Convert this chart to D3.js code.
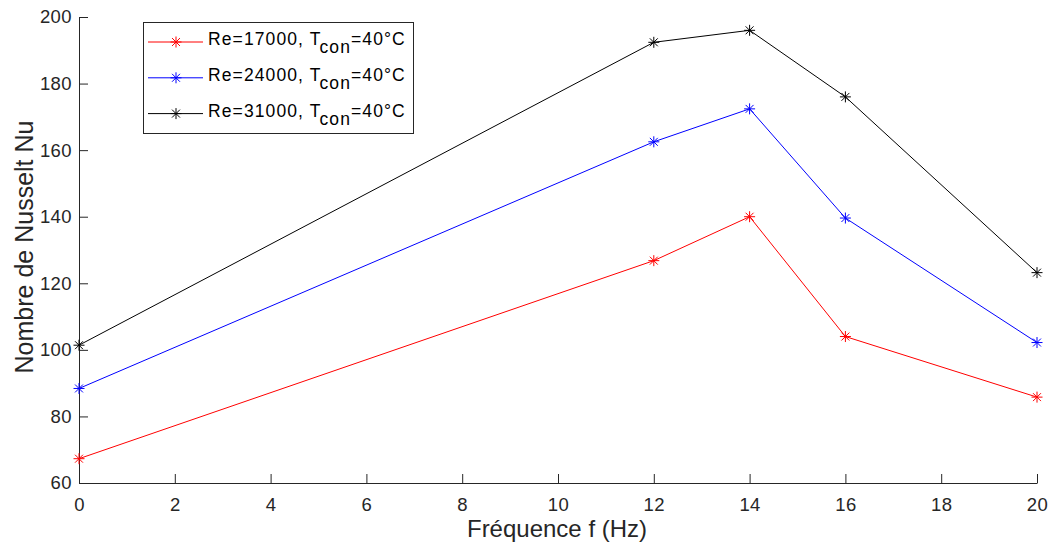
<!DOCTYPE html>
<html><head><meta charset="utf-8">
<script src="https://cdn.jsdelivr.net/npm/d3@7"></script>
<style>body{margin:0;background:#fff;} text{font-family:"Liberation Sans",Arial,Helvetica,sans-serif;}</style>
</head><body><svg id="c" width="1051" height="549"></svg>
<script>
const freq = [0, 12, 14, 16, 20];
const nuRe17000 = [67.3, 126.8, 140.0, 104.0, 85.8];
const nuRe24000 = [88.4, 162.5, 172.4, 139.6, 102.2];
const nuRe31000 = [101.4, 192.4, 196.0, 176.0, 123.2];
const seriesNames = ["Re=17000, T", "Re=24000, T", "Re=31000, T"];
const seriesColors = ["#ff0000", "#0000ff", "#000000"];
const xTicks = [0, 2, 4, 6, 8, 10, 12, 14, 16, 18, 20];
const yTicks = [60, 80, 100, 120, 140, 160, 180, 200];
const allSeries = [nuRe17000, nuRe24000, nuRe31000];

const svg = d3.select("#c");
const L = 79, R = 1037, T = 17, B = 483;
const x = d3.scaleLinear().domain([0, 20]).range([L, R]);
const y = d3.scaleLinear().domain([60, 200]).range([B, T]);
const axCol = "#262626";

const xa = svg.append("g").attr("transform", `translate(0,${B})`)
  .call(d3.axisBottom(x).tickValues(xTicks).tickSizeInner(-9).tickSizeOuter(0).tickPadding(15));
const ya = svg.append("g").attr("transform", `translate(${L},0)`)
  .call(d3.axisLeft(y).tickValues(yTicks).tickSizeInner(-9).tickSizeOuter(0).tickPadding(7));
[xa, ya].forEach(a => {
  a.select(".domain").attr("stroke", axCol).attr("stroke-width", 1);
  a.selectAll(".tick line").attr("stroke", axCol);
  a.selectAll(".tick text").attr("fill", axCol).style("font-size", "18.5px").style("letter-spacing", "0.4px");
});

svg.append("text").attr("x", 557).attr("y", 537).attr("text-anchor", "middle")
  .attr("fill", axCol).style("font-size", "24px").text("Fréquence f (Hz)");
svg.append("text").attr("transform", `translate(33,247) rotate(-90)`).attr("text-anchor", "middle")
  .attr("fill", axCol).style("font-size", "25px").text("Nombre de Nusselt Nu");

function star(g, cx, cy, col, s) {
  const p = d3.path();
  p.moveTo(cx - s, cy); p.lineTo(cx + s, cy);
  p.moveTo(cx, cy - s); p.lineTo(cx, cy + s);
  const d = s * 0.72;
  p.moveTo(cx - d, cy - d); p.lineTo(cx + d, cy + d);
  p.moveTo(cx - d, cy + d); p.lineTo(cx + d, cy - d);
  g.append("path").attr("d", p.toString()).attr("stroke", col).attr("stroke-width", 1).attr("fill", "none");
}

const line = d3.line().x((d, i) => x(freq[i])).y(d => y(d));
allSeries.forEach((s, k) => {
  const g = svg.append("g");
  g.append("path").datum(s).attr("d", line).attr("fill", "none").attr("stroke", seriesColors[k]).attr("stroke-width", 1);
  s.forEach((v, i) => star(g, x(freq[i]), y(v), seriesColors[k], 5.5));
});

// legend
const lg = svg.append("g");
lg.append("rect").attr("x", 143.5).attr("y", 22.5).attr("width", 270).attr("height", 111)
  .attr("fill", "#fff").attr("stroke", "#262626").attr("stroke-width", 1);
seriesNames.forEach((n, k) => {
  const yy = 42 + k * 35.8;
  lg.append("line").attr("x1", 148).attr("x2", 203).attr("y1", yy).attr("y2", yy).attr("stroke", seriesColors[k]);
  star(lg, 176, yy, seriesColors[k], 5.5);
  const t = lg.append("text").attr("x", 208).attr("y", yy + 3).attr("fill", "#000")
    .style("font-size", "17.5px").style("letter-spacing", "1.1px");
  t.append("tspan").text(n);
  t.append("tspan").attr("dy", 8).text("con");
  t.append("tspan").attr("dy", -8).text("=40°C");
});
</script></body></html>
